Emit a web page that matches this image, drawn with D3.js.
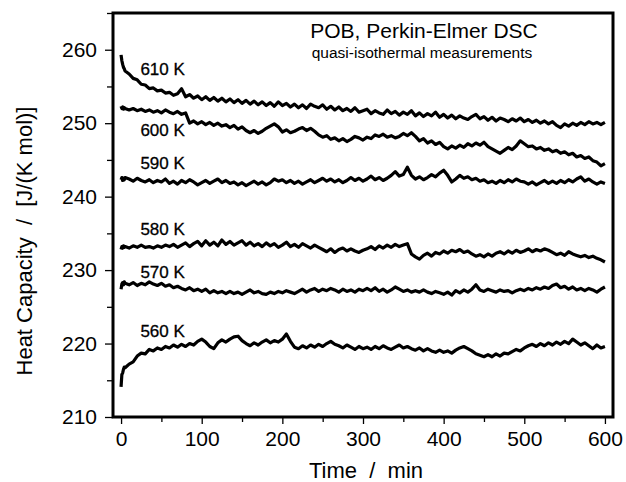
<!DOCTYPE html>
<html>
<head>
<meta charset="utf-8">
<script src="https://cdn.jsdelivr.net/npm/d3@7"></script>
<style>
  body { margin: 0; background: #fff; }
  text { font-family: "Liberation Sans", Arial, sans-serif; fill: #000; }
</style>
</head>
<body>
<div id="chart"></div>
<script>
// sampling times (min)
const timeMin = [0, 1, 2, 3, 4,
  5, 10, 15, 20, 25, 30, 35, 40, 45, 50,
  55, 60, 65, 70, 75, 80, 85, 90, 95, 100,
  105, 110, 115, 120, 125, 130, 135, 140, 145, 150,
  155, 160, 165, 170, 175, 180, 185, 190, 195, 200,
  205, 210, 215, 220, 225, 230, 235, 240, 245, 250,
  255, 260, 265, 270, 275, 280, 285, 290, 295, 300,
  305, 310, 315, 320, 325, 330, 335, 340, 345, 350,
  355, 360, 365, 370, 375, 380, 385, 390, 395, 400,
  405, 410, 415, 420, 425, 430, 435, 440, 445, 450,
  455, 460, 465, 470, 475, 480, 485, 490, 495, 500,
  505, 510, 515, 520, 525, 530, 535, 540, 545, 550,
  555, 560, 565, 570, 575, 580, 585, 590, 595, 600];

const cp610 = [259.3, 258.5, 258.0, 257.6, 257.4,
  257.1, 256.7, 256.1, 255.9, 255.3, 255.2, 254.7, 254.8, 254.4, 254.5,
  254.1, 254.2, 253.8, 254.0, 254.7, 253.6, 253.9, 253.4, 253.7, 253.2,
  253.6, 253.1, 253.5, 253.0, 253.4, 252.9, 253.3, 252.8, 253.2, 252.7,
  253.1, 252.6, 253.0, 252.5, 252.9, 252.4, 252.8, 252.3, 252.9, 252.4,
  252.7, 252.2, 252.6, 252.1, 252.5, 252.0, 252.6, 252.3, 252.1, 252.5,
  251.9, 252.3, 251.8, 252.2, 251.7, 252.0, 251.6, 252.1, 251.5, 251.7,
  251.9, 251.3, 251.7, 251.4, 251.2, 251.8, 251.3, 251.6, 251.1, 251.5,
  251.2, 251.7, 251.0, 251.4, 250.9, 251.3, 251.0, 251.5, 250.8, 251.2,
  250.7, 251.1, 250.6, 251.0, 250.7, 250.5, 250.9, 251.2, 250.6, 250.9,
  250.4, 250.8, 250.3, 250.7, 250.5, 250.2, 250.6, 250.3, 250.7, 250.2,
  250.5, 250.1, 250.4, 250.0, 250.3, 249.9, 250.2, 249.7, 249.4, 249.9,
  249.6, 250.0, 249.7, 250.1, 249.8, 250.2, 249.9, 250.1, 249.8, 250.1];

const cp600 = [252.3, 252.0, 252.2, 251.9, 252.1,
  252.0, 251.8, 252.0, 251.7, 251.9, 251.6, 251.8, 251.5, 251.7, 251.4,
  251.8, 251.5, 251.3, 251.6, 251.2, 251.4, 250.0, 250.3, 249.9, 250.2,
  249.8, 250.1, 249.7, 250.0, 249.6, 249.8, 249.4, 249.7, 249.2, 249.5,
  249.0, 248.7, 249.0, 248.6, 248.9, 249.3, 249.6, 249.9, 249.5, 248.8,
  249.1, 248.7, 248.9, 249.2, 249.4, 249.0, 249.3, 248.9, 248.4, 248.1,
  248.3, 247.8, 248.0, 247.6, 247.9, 247.5, 247.8, 248.2, 248.0, 247.7,
  248.1, 247.9, 248.4, 248.2, 248.5, 248.1, 248.3, 248.0, 248.2, 248.6,
  248.3, 248.7, 248.2, 247.6, 247.9, 247.3, 247.6, 247.1, 247.4, 246.8,
  246.5, 246.9, 246.6, 247.0, 246.7, 247.2, 246.9, 247.3, 247.0, 247.4,
  246.8, 246.5, 246.2, 245.9, 246.3, 246.7, 246.4, 246.9, 247.6, 247.2,
  246.8, 246.9, 246.5, 246.7, 246.3, 246.5, 246.1, 246.3, 245.9, 246.1,
  245.7, 245.9, 245.4, 245.6, 245.2, 245.4, 244.9, 244.7, 244.2, 244.5];

const cp590 = [242.3, 242.6, 242.2, 242.5, 242.3,
  242.6, 242.4, 242.1, 242.5, 242.2, 242.0, 242.3, 241.9, 242.2, 242.0,
  242.4, 241.8, 242.1, 241.7, 242.2, 241.9, 242.3, 242.0, 241.6, 241.9,
  242.2, 241.8, 242.1, 242.4, 241.9, 242.2, 241.8, 242.0, 241.6, 241.9,
  241.5, 241.8, 242.1, 241.7, 242.0, 241.6, 241.9, 242.4, 242.1, 242.3,
  241.9, 242.2, 241.8, 242.1, 241.7, 242.0, 242.3, 241.9, 242.2, 242.5,
  242.1, 242.4, 242.0, 242.3, 241.9, 242.2, 242.6, 242.2, 242.5, 242.1,
  242.4, 242.8, 242.3, 242.6, 242.2, 242.5, 242.9, 243.4, 242.8, 243.0,
  244.0, 242.9, 242.4, 242.7, 242.3, 242.6, 243.0, 242.7, 243.2, 243.6,
  242.9, 242.0, 242.4, 242.9, 242.5, 242.7, 242.3, 242.5, 242.1, 242.3,
  241.9, 242.1, 241.8, 242.2, 241.9, 242.3, 242.0, 242.4, 242.1, 242.0,
  241.7, 242.0, 241.6, 241.9, 242.2, 241.8, 242.1, 241.8, 242.2, 241.9,
  242.3, 242.0, 242.4, 242.7, 242.1, 242.4, 242.0, 241.7, 242.0, 241.8];

const cp580 = [232.8, 233.2, 233.0, 233.3, 233.1,
  233.2, 233.0, 233.3, 233.1, 233.4, 233.1, 233.2, 233.0, 233.3, 233.1,
  233.4, 233.2, 233.5, 233.1, 233.4, 233.7, 233.2, 233.6, 233.9, 233.3,
  234.0, 233.4, 233.8, 233.3, 234.1, 233.5, 233.9, 233.4, 233.7, 234.0,
  233.4, 233.8, 233.3, 233.6, 233.2, 233.7, 233.3, 233.6, 233.1, 233.4,
  233.8, 233.2, 233.5, 233.1, 233.6, 233.3, 233.0, 233.4, 233.1, 232.8,
  232.5, 232.9, 232.4, 232.8, 233.0, 232.6, 232.9, 232.6, 232.4, 232.7,
  232.9, 233.2, 232.8, 233.3, 233.0, 233.4, 233.1, 233.5, 233.2, 233.4,
  233.6, 232.2, 231.8, 231.5, 232.0, 232.3, 231.9, 232.4, 232.2, 232.6,
  232.3, 232.7, 232.5, 232.8, 232.4, 232.6, 232.2, 231.9, 232.1, 231.8,
  232.2, 231.9, 232.3, 232.5, 232.2, 232.6, 232.3, 232.7, 232.4, 232.6,
  232.9, 232.5, 232.8, 232.6, 232.9, 232.7, 232.4, 232.1, 232.3, 232.0,
  232.5, 232.2, 232.0, 231.8, 232.0, 231.7, 231.9, 231.6, 231.4, 231.1];

const cp570 = [227.4, 228.1, 228.3, 228.0, 228.4,
  228.2, 228.0, 228.3, 227.9, 228.2, 228.0, 228.4, 228.1, 227.9, 228.2,
  227.8, 228.0, 227.6, 227.8, 227.5, 227.3, 227.6, 227.2, 227.4, 227.1,
  227.4, 226.9, 227.2, 226.9, 227.1, 226.8, 227.1, 226.8, 227.0, 226.7,
  227.0, 227.3, 226.9, 227.1, 226.8, 226.7, 227.0, 226.8, 227.1, 226.9,
  227.2, 227.0, 226.8, 227.1, 227.4, 227.0, 227.3, 227.5, 227.1, 227.4,
  227.2, 227.5, 227.3, 227.0, 227.4, 227.1, 227.3, 227.0, 227.4, 227.2,
  227.5, 227.2, 227.6, 227.1, 227.4, 227.0, 227.3, 227.7, 227.4, 227.1,
  227.3, 227.0, 227.2, 227.0, 227.3, 227.0, 226.8, 227.1, 226.9, 226.7,
  227.0, 226.6, 227.2, 226.9, 227.3, 227.0, 227.4, 228.0, 227.3, 227.1,
  227.4, 227.2, 227.0, 227.3, 227.1, 227.2, 226.9, 227.2, 227.4, 227.2,
  227.5, 227.3, 227.6, 227.4, 227.7, 227.5, 227.9, 228.1, 227.6, 227.8,
  227.4, 227.7, 227.3, 227.5, 227.2, 227.5, 227.3, 227.0, 227.4, 227.7];

const cp560 = [214.1, 215.8, 216.0, 216.5, 216.8,
  216.7, 217.2, 217.5, 218.3, 218.7, 218.6, 219.2, 219.0, 219.4, 219.2,
  219.6, 219.4, 219.8, 219.5, 219.9, 219.6, 220.0, 219.8, 220.3, 220.6,
  220.2, 219.6, 219.3, 220.1, 220.5, 220.2, 220.6, 220.9, 221.0, 220.4,
  220.0, 219.7, 220.1, 219.8, 220.2, 220.5, 220.1, 220.4, 220.2, 220.6,
  221.3, 220.3, 219.5, 219.3, 219.7, 219.4, 219.8, 219.5, 219.9, 219.6,
  220.0, 220.3, 219.9, 219.7, 219.4, 219.8, 219.5, 219.2, 219.6, 219.3,
  219.5, 219.2, 219.6, 219.3, 219.7, 219.4, 219.2, 219.5, 219.8, 219.4,
  219.6, 219.3, 219.1, 219.4, 219.0, 219.3, 219.0, 218.8, 219.1, 218.8,
  219.0, 218.7, 219.1, 219.4, 219.6, 219.3, 219.0, 218.6, 218.4, 218.2,
  218.5, 218.2, 218.6, 218.3, 218.7, 218.6, 218.9, 219.2, 219.0, 219.4,
  219.7, 219.9, 219.6, 220.0, 219.7, 220.1, 219.8, 220.2, 219.9, 220.3,
  220.0, 220.6, 220.2, 219.8, 220.1, 219.7, 219.3, 219.8, 219.4, 219.6];

const seriesNames = ["610 K", "600 K", "590 K", "580 K", "570 K", "560 K"];
const seriesValues = [cp610, cp600, cp590, cp580, cp570, cp560];
// label anchor in data units [min, J/(K mol)]
const labelAt = [[24, 256.6], [24, 248.3], [24, 243.8], [24, 234.8], [24, 228.9], [24, 220.9]];

const xMajor = [0, 100, 200, 300, 400, 500, 600];
const xMinor = [50, 150, 250, 350, 450, 550];
const yMajor = [210, 220, 230, 240, 250, 260];
const yMinor = [215, 225, 235, 245, 255, 265];

const margin = { top: 13, right: 13, bottom: 65, left: 113 },
    width = 626 - margin.left - margin.right,
    height = 482 - margin.top - margin.bottom;

const svg = d3.select("#chart")
    .append("svg")
    .attr("width", 626)
    .attr("height", 482)
    .append("g")
    .attr("transform", `translate(${margin.left}, ${margin.top})`);

const x = d3.scaleLinear().domain([-10, 610]).range([0, width]);
const y = d3.scaleLinear().domain([210, 265]).range([height, 0]);

// X axis
svg.append("g")
    .attr("transform", `translate(0, ${height})`)
    .call(d3.axisBottom(x).tickValues(xMajor).tickSize(7).tickPadding(7).tickFormat(d3.format("d")));
svg.append("g")
    .attr("transform", `translate(0, ${height})`)
    .call(d3.axisBottom(x).tickValues(xMinor).tickSize(5).tickFormat(""));

// Y axis
svg.append("g")
    .call(d3.axisLeft(y).tickValues(yMajor).tickSize(8).tickPadding(8).tickFormat(d3.format("d")));
svg.append("g")
    .call(d3.axisLeft(y).tickValues(yMinor).tickSize(6).tickFormat(""));

svg.selectAll(".domain").remove();
svg.selectAll(".tick line").attr("stroke", "#000").attr("stroke-width", 1.3);
svg.selectAll(".tick text")
    .style("font-size", "21px")
    .style("font-family", "'Liberation Sans', Arial, sans-serif");

// curves
const line = d3.line()
    .x((d, i) => x(timeMin[i]))
    .y(d => y(d));

svg.selectAll(".curve")
    .data(seriesValues)
    .enter()
    .append("path")
    .attr("class", "curve")
    .attr("d", d => line(d))
    .attr("fill", "none")
    .attr("stroke", "#000")
    .attr("stroke-width", 3.2)
    .attr("stroke-linejoin", "round");

svg.selectAll(".clabel")
    .data(seriesNames)
    .enter()
    .append("text")
    .attr("class", "clabel")
    .attr("x", (d, i) => x(labelAt[i][0]))
    .attr("y", (d, i) => y(labelAt[i][1]))
    .style("font-size", "17px")
    .style("stroke", "#000")
    .style("stroke-width", 0.3)
    .text(d => d);

// frame
svg.append("rect")
    .attr("x", 0)
    .attr("y", 0)
    .attr("width", width)
    .attr("height", height)
    .attr("fill", "none")
    .attr("stroke", "#000")
    .attr("stroke-width", 3);

// titles
svg.append("text")
    .attr("x", 311)
    .attr("y", 25)
    .attr("text-anchor", "middle")
    .style("font-size", "21px")
    .text("POB, Perkin-Elmer DSC");
svg.append("text")
    .attr("x", 309)
    .attr("y", 45)
    .attr("text-anchor", "middle")
    .style("font-size", "15.5px")
    .text("quasi-isothermal measurements");

svg.append("text")
    .attr("x", width / 2 + 3)
    .attr("y", height + 61)
    .attr("text-anchor", "middle")
    .style("font-size", "22px")
    .style("white-space", "pre")
    .text("Time  /  min");

svg.append("text")
    .attr("transform", `translate(${32 - margin.left}, ${241 - margin.top}) rotate(-90)`)
    .attr("text-anchor", "middle")
    .style("font-size", "22px")
    .style("white-space", "pre")
    .text("Heat Capacity  /  [J/(K mol)]");
</script>
</body>
</html>
